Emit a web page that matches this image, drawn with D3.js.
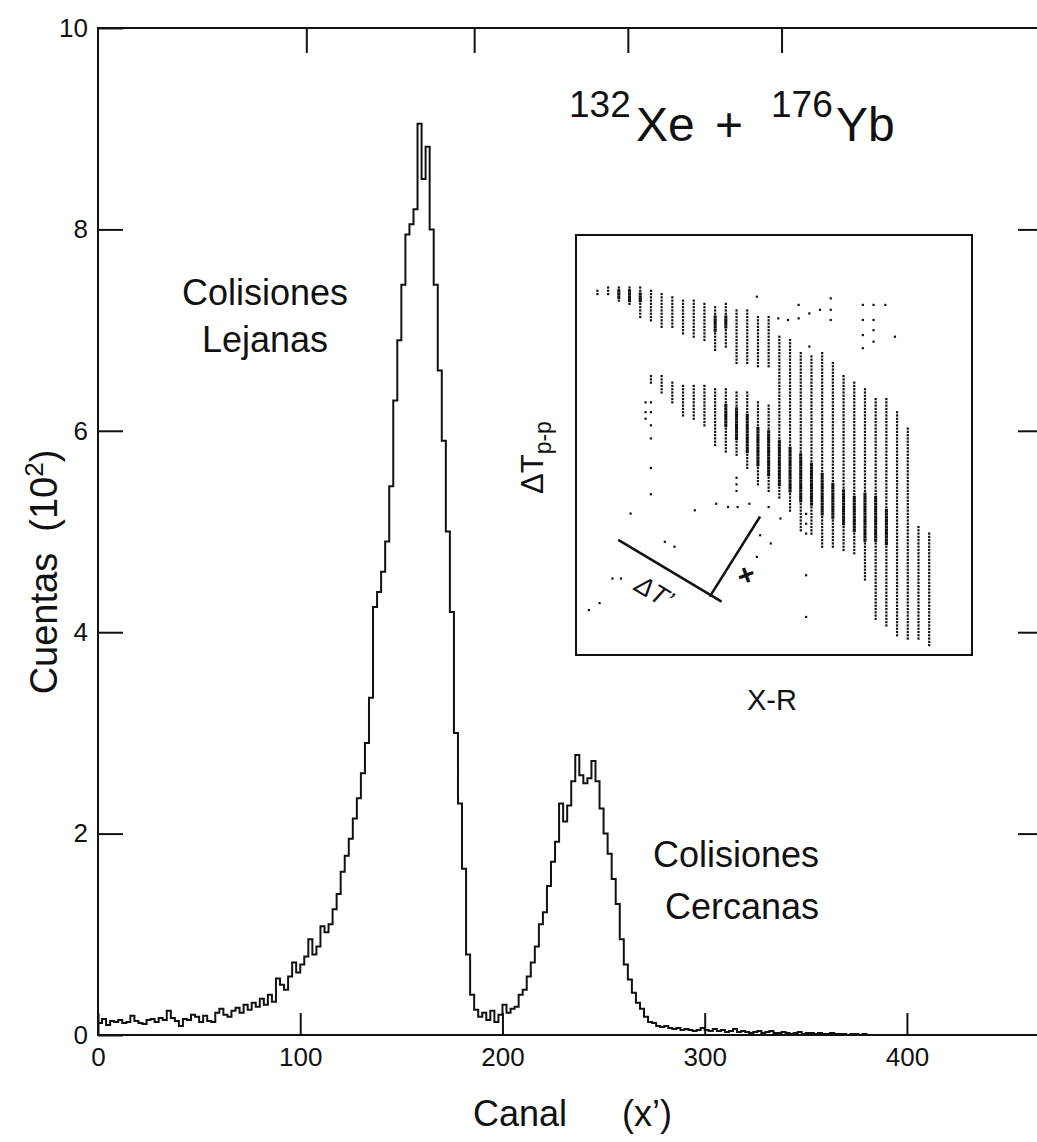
<!DOCTYPE html>
<html>
<head>
<meta charset="utf-8">
<script src="https://cdn.jsdelivr.net/npm/d3@7"></script>
<style>
  body { margin: 0; background: #fff; }
  text { font-family: "Liberation Sans", Arial, Helvetica, sans-serif; fill: #111; }
  .axis path, .axis line { stroke: #111; stroke-width: 2; }
</style>
</head>
<body>
<div id="chart"></div>
<script>
// ---- main spectrum: counts (x10^2) per 2-channel bin, starting at channel 0
var binWidth = 2;
var counts = [
  0.12,0.16,0.10,0.14,0.13,0.15,0.12,0.13,0.19,0.14,
  0.12,0.11,0.15,0.16,0.13,0.17,0.15,0.24,0.17,0.14,
  0.09,0.16,0.15,0.20,0.18,0.13,0.19,0.14,0.13,0.22,
  0.26,0.20,0.18,0.24,0.27,0.22,0.30,0.25,0.32,0.28,
  0.36,0.30,0.40,0.33,0.56,0.50,0.45,0.58,0.72,0.62,
  0.70,0.78,0.95,0.80,0.88,1.08,1.02,1.10,1.25,1.40,
  1.62,1.78,1.95,2.15,2.35,2.60,2.90,3.35,4.25,4.40,
  4.60,4.90,5.45,6.30,6.90,7.45,7.95,8.05,8.20,9.05,
  8.50,8.82,8.00,7.45,6.60,5.90,5.00,4.20,3.00,2.30,
  1.65,0.80,0.40,0.25,0.18,0.22,0.15,0.24,0.13,0.20,
  0.30,0.22,0.26,0.28,0.40,0.45,0.58,0.72,0.88,1.10,
  1.22,1.48,1.72,1.92,2.30,2.12,2.28,2.52,2.78,2.58,
  2.50,2.55,2.72,2.52,2.25,2.00,1.80,1.55,1.30,0.95,
  0.70,0.55,0.42,0.32,0.26,0.18,0.13,0.12,0.09,0.08,
  0.09,0.07,0.06,0.07,0.05,0.06,0.05,0.04,0.05,0.07,
  0.05,0.04,0.06,0.04,0.05,0.03,0.04,0.06,0.03,0.04,
  0.03,0.02,0.03,0.04,0.02,0.03,0.04,0.02,0.02,0.03,
  0.02,0.01,0.02,0.03,0.01,0.02,0.02,0.01,0.02,0.01,
  0.01,0.02,0.01,0.01,0.01,0.00,0.01,0.01,0.00,0.01,
  0,0,0,0,0,0,0,0,0,0
];
var yTicks = [0, 2, 4, 6, 8, 10];
var xTicks = [0, 100, 200, 300, 400];
var topTicks = [103, 186, 262, 338];
var rightTicks = [2, 4, 6, 8];

// ---- inset (X-R vs dT p-p): columns [x, rowLow, rowHigh]
var upperBand = [
  [2,110,111],[3,110,112],[4,108,112],[5,107,112],[6,103,112],[7,102,111],
  [8,100,110],[9,100,109],[10,98,108],[11,97,108],[12,96,107],[13,93,106],
  [14,94,107],[15,89,105],[16,89,105],[17,88,103],[18,88,103]
];
var lowerBand = [
  [7,83,85],[8,80,85],[9,77,83],[10,73,82],[11,72,82],[12,70,82],[13,64,81],
  [14,62,81],[15,61,80],[16,57,80],[17,52,77],[18,50,76]
];
var rightBand = [
  [19,48,97],[20,44,96],[21,38,92],[22,37,91],[23,33,92],[24,33,89],[25,32,85],
  [26,31,83],[27,23,81],[28,11,78],[29,9,78],[30,6,74],[31,5,69],[32,5,39],[33,3,37]
];
var denseCore = [
  [4,109,111],[5,108,111],[6,108,110],[13,99,103],[14,100,103],
  [14,70,76],[15,66,75],[16,62,73],[17,58,69],[18,55,68],[19,52,65],[20,50,63],
  [21,47,61],[22,46,58],[23,43,55],[24,42,52],[25,40,50],[26,38,48],[27,35,49],
  [28,35,48],[29,34,44]
];
var strayDots = [
  [20.8,106.7],[20.8,102.6],[21.8,104.1],[22.8,105.2],[23.8,108.7],[23.8,105.2],
  [23.8,102.1],[26.8,106.7],[26.8,102.1],[26.8,97.5],[26.8,93.5],[27.8,106.7],
  [27.8,102.1],[27.8,99],[27.8,95.5],[28.9,106.7],[29.8,97],[16.9,109.2],
  [18.9,102.6],[19.8,102.1],[21.8,94],
  [1.2,13.7],[2.2,15.8],[3.4,23.3],[4.2,23.3],[5.1,43.1],[8.3,34.5],[9.2,33],
  [11.1,44.1],[13.1,46.1],[14.2,45.1],[15.1,45.1],[16.2,46.1],[18,45.1],
  [17.2,36.5],[18.2,34],[19.1,41.6],[16.9,29.9],[21.5,24.3],[21.5,11.6],
  [7,77],[7,74],[7,70],[7,66],[7,57],[7,49],[6.5,77],[6.5,74],[6.5,72],
  [15,54],[15,52],[15,50],[21.5,43],[21.5,40],[21.5,37]
];
var dtAxes = [
  [[3.95,35.1],[13.6,16.25]],
  [[12.5,17.8],[17.2,42.2]]
];

var W = 1037, H = 1142;
var svg = d3.select("#chart").append("svg")
  .attr("width", W).attr("height", H);

var x = d3.scaleLinear().domain([0, 465.8]).range([98, 1040]);
var y = d3.scaleLinear().domain([0, 10]).range([1035, 28]);

// frame
svg.append("path")
  .attr("d", "M" + x(0) + "," + y(0) + "V" + y(10) + "H" + x(465.8) + "V" + y(0) + "Z")
  .attr("fill", "none").attr("stroke", "#111").attr("stroke-width", 2);

var yAxis = svg.append("g").attr("class", "axis")
  .attr("transform", "translate(" + x(0) + ",0)")
  .call(d3.axisLeft(y).tickValues(yTicks).tickSize(-25).tickSizeOuter(0).tickPadding(10));
yAxis.selectAll("text").style("font-size", "26px").style("font-family", "Liberation Sans, Arial, sans-serif").attr("fill", "#111");
yAxis.select(".domain").remove();

var xAxis = svg.append("g").attr("class", "axis")
  .attr("transform", "translate(0," + y(0) + ")")
  .call(d3.axisBottom(x).tickValues(xTicks).tickSize(-22).tickSizeOuter(0).tickPadding(13));
xAxis.selectAll("text").style("font-size", "26px").style("font-family", "Liberation Sans, Arial, sans-serif").attr("fill", "#111");
xAxis.select(".domain").remove();

var topAxis = svg.append("g").attr("class", "axis")
  .attr("transform", "translate(0," + y(10) + ")")
  .call(d3.axisTop(x).tickValues(topTicks).tickSize(-25).tickSizeOuter(0).tickFormat(""));
topAxis.select(".domain").remove();

var rightAxis = svg.append("g").attr("class", "axis")
  .attr("transform", "translate(" + x(465.8) + ",0)")
  .call(d3.axisRight(y).tickValues(rightTicks).tickSize(-22).tickSizeOuter(0).tickFormat(""));
rightAxis.select(".domain").remove();

// histogram as a step line
var pts = counts.map(function (c, i) { return [i * binWidth, c]; });
pts.push([counts.length * binWidth, 0]);
var line = d3.line()
  .x(function (d) { return x(d[0]); })
  .y(function (d) { return y(d[1]); })
  .curve(d3.curveStepAfter);
svg.append("path").datum(pts)
  .attr("d", line)
  .attr("fill", "none").attr("stroke", "#111").attr("stroke-width", 2)
  .attr("stroke-linejoin", "miter");

// axis titles
var yl = svg.append("text")
  .attr("transform", "translate(57,572) rotate(-90)")
  .attr("text-anchor", "middle")
  .style("font-size", "38px");
yl.append("tspan").text("Cuentas\u00a0\u00a0(10");
yl.append("tspan").attr("dy", -14).style("font-size", "26px").text("2");
yl.append("tspan").attr("dy", 14).text(")");

svg.append("text").attr("x", 473).attr("y", 1126).style("font-size", "36px").text("Canal");
svg.append("text").attr("x", 622).attr("y", 1126).style("font-size", "36px").text("(x\u2019)");

// title
var t = svg.append("text").attr("y", 140);
t.append("tspan").attr("x", 569).attr("y", 117).style("font-size", "37px").text("132");
t.append("tspan").attr("x", 636).attr("y", 141).style("font-size", "48px").text("Xe");
t.append("tspan").attr("x", 715).attr("y", 141).style("font-size", "48px").text("+");
t.append("tspan").attr("x", 771).attr("y", 117).style("font-size", "37px").text("176");
t.append("tspan").attr("x", 836).attr("y", 141).style("font-size", "48px").text("Yb");

// annotations
svg.append("text").attr("x", 182).attr("y", 305).style("font-size", "36px").text("Colisiones");
svg.append("text").attr("x", 202).attr("y", 352).style("font-size", "36px").text("Lejanas");
svg.append("text").attr("x", 653).attr("y", 867).style("font-size", "36px").text("Colisiones");
svg.append("text").attr("x", 665).attr("y", 919).style("font-size", "36px").text("Cercanas");

// ---- inset
var xi = d3.scaleLinear().domain([0, 37]).range([576, 972]);
var yi = d3.scaleLinear().domain([0, 128]).range([655, 235]);
var inset = svg.append("g");
inset.append("rect")
  .attr("x", xi(0)).attr("y", yi(128))
  .attr("width", xi(37) - xi(0)).attr("height", yi(0) - yi(128))
  .attr("fill", "none").attr("stroke", "#111").attr("stroke-width", 2);

function expand(cols) {
  var out = [];
  cols.forEach(function (c) {
    for (var r = Math.ceil(c[1]); r <= Math.floor(c[2]); r++) out.push([c[0], r]);
  });
  return out;
}
var sparse = expand(upperBand).concat(expand(lowerBand), expand(rightBand), strayDots);
inset.selectAll("rect.dot").data(sparse).enter().append("rect")
  .attr("class", "dot")
  .attr("x", function (d) { return xi(d[0]) - 1.1; })
  .attr("y", function (d) { return yi(d[1]) - 1.1; })
  .attr("width", 2.2).attr("height", 2.2)
  .attr("fill", "#111");
inset.selectAll("rect.dense").data(expand(denseCore)).enter().append("rect")
  .attr("class", "dense")
  .attr("x", function (d) { return xi(d[0]) - 1.5; })
  .attr("y", function (d) { return yi(d[1]) - 1.6; })
  .attr("width", 3).attr("height", 3.2)
  .attr("fill", "#111");

dtAxes.forEach(function (seg) {
  inset.append("line")
    .attr("x1", xi(seg[0][0])).attr("y1", yi(seg[0][1]))
    .attr("x2", xi(seg[1][0])).attr("y2", yi(seg[1][1]))
    .attr("stroke", "#111").attr("stroke-width", 2.5);
});
inset.append("text")
  .attr("transform", "translate(" + xi(5.3) + "," + yi(20) + ") rotate(31)")
  .style("font-size", "26px").style("font-style", "italic")
  .text("\u0394T\u2019");
inset.append("text")
  .attr("transform", "translate(" + xi(16.2) + "," + yi(21.5) + ") rotate(-20)")
  .attr("text-anchor", "middle")
  .style("font-size", "30px").style("font-weight", "bold")
  .text("+");

var dl = svg.append("text")
  .attr("transform", "translate(543,494) rotate(-90)")
  .style("font-size", "31px");
dl.append("tspan").text("\u0394T");
dl.append("tspan").attr("dy", 8).style("font-size", "23px").text("p-p");

svg.append("text").attr("x", 747).attr("y", 710).style("font-size", "29px").text("X-R");
</script>
</body>
</html>
